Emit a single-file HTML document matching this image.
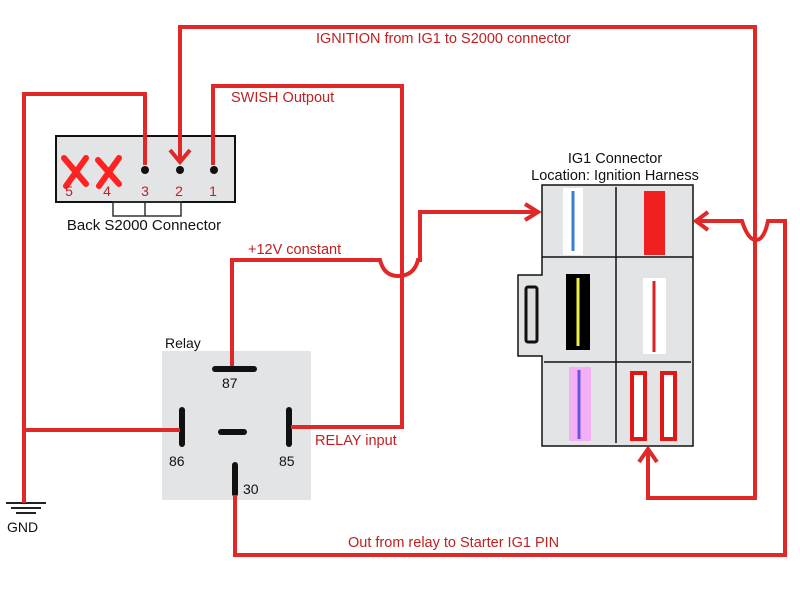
<!DOCTYPE html>
<html><head><style>
body{margin:0;background:#fff;}
svg text{font-family:"Liberation Sans",sans-serif;}
</style></head><body>
<svg width="800" height="600" xmlns="http://www.w3.org/2000/svg">
<rect width="800" height="600" fill="#fff"/>
<!-- S2000 connector -->
<rect x="56" y="136" width="179" height="66" fill="#e3e4e6" stroke="#111" stroke-width="2"/>
<rect x="113" y="202" width="68" height="14" fill="none" stroke="#333" stroke-width="1.5"/>
<line x1="145" y1="202" x2="145" y2="216" stroke="#333" stroke-width="1.5"/>
<g stroke="#f22" stroke-width="6" stroke-linecap="round">
<line x1="64" y1="158" x2="86" y2="184"/><line x1="86" y1="158" x2="66" y2="186"/>
<line x1="98" y1="160" x2="119" y2="184"/><line x1="119" y1="158" x2="99" y2="186"/>
</g>
<g fill="#111"><circle cx="145" cy="170" r="4"/><circle cx="180" cy="170" r="4"/><circle cx="214" cy="170" r="4"/></g>
<g fill="#c02020" font-size="14" text-anchor="middle">
<text x="69" y="196">5</text><text x="107" y="196">4</text><text x="145" y="196">3</text><text x="179" y="196">2</text><text x="213" y="196">1</text></g>
<text x="144" y="230" font-size="15" text-anchor="middle" fill="#111">Back S2000 Connector</text>
<!-- IG1 connector -->
<path d="M542 185 H693 V446 H542 V356 H518 V275 H542 Z" fill="#e3e4e6" stroke="#111" stroke-width="1.5"/>
<line x1="616" y1="187" x2="616" y2="443" stroke="#111" stroke-width="1.5"/>
<line x1="542" y1="257" x2="693" y2="257" stroke="#111" stroke-width="1.5"/>
<line x1="544" y1="362" x2="691" y2="362" stroke="#111" stroke-width="1.5"/>
<rect x="563" y="188" width="20" height="67" fill="#fff"/><line x1="573" y1="191" x2="573" y2="251" stroke="#3a7fd6" stroke-width="3"/>
<rect x="644" y="191" width="21" height="64" fill="#f02020"/>
<rect x="526" y="287" width="11" height="55" fill="#ddd" stroke="#111" stroke-width="3" rx="2"/>
<rect x="566" y="274" width="24" height="76" fill="#000"/><line x1="578" y1="278" x2="578" y2="346" stroke="#ee4" stroke-width="3"/>
<rect x="643" y="278" width="23" height="76" fill="#fff"/><line x1="654" y1="281" x2="654" y2="352" stroke="#d22" stroke-width="3"/>
<rect x="569" y="367" width="22" height="74" fill="#f4b0f4"/><line x1="579" y1="370" x2="579" y2="439" stroke="#6a55e0" stroke-width="3"/>
<rect x="632" y="373" width="13" height="66" fill="#fff" stroke="#e01818" stroke-width="4"/>
<rect x="662" y="373" width="13" height="66" fill="#fff" stroke="#e01818" stroke-width="4"/>
<text x="615" y="163" font-size="14.5" text-anchor="middle" fill="#111">IG1 Connector</text>
<text x="615" y="180" font-size="14.5" text-anchor="middle" fill="#111">Location: Ignition Harness</text>
<!-- Relay -->
<rect x="162" y="351" width="149" height="149" fill="#e3e4e6"/>
<g stroke="#111" stroke-width="6" stroke-linecap="round">
<line x1="215" y1="369" x2="254" y2="369"/>
<line x1="182" y1="410" x2="182" y2="444"/>
<line x1="289" y1="410" x2="289" y2="444"/>
<line x1="221" y1="432" x2="244" y2="432"/>
<line x1="235" y1="465" x2="235" y2="494"/>
</g>
<g font-size="14" fill="#111"><text x="222" y="388">87</text><text x="169" y="466">86</text><text x="279" y="466">85</text><text x="243" y="494">30</text><text x="165" y="348">Relay</text></g>
<!-- GND -->
<g stroke="#222" stroke-width="2"><line x1="6" y1="503" x2="46" y2="503"/><line x1="11" y1="508" x2="41" y2="508"/><line x1="16" y1="513" x2="36" y2="513"/></g>
<text x="7" y="532" font-size="14" fill="#111">GND</text>
<!-- wires -->
<g fill="none" stroke="#e02828" stroke-width="4" stroke-linejoin="miter">
<path d="M180 162 V27 H755 V498 H648 V449"/>
<path d="M170 150 L180 162 L190 150"/>
<path d="M213 165 V86 H402 V427 H291"/>
<path d="M145 165 V94 H24 V503"/>
<path d="M24 430 H180"/>
<path d="M232 366 V260 H380 Q384 276 398 276 Q414 276 418 260 H420 V212 H538"/>
<path d="M525 204 L538 212 L525 220"/>
<path d="M696 221 H742 Q748 240 756 240 Q764 240 768 221 H785 V555 H235 V495"/>
<path d="M708 212 L696 221 L708 230"/>
<path d="M639 462 L648 449 L657 462"/>
</g>
<g font-size="14.5" fill="#c02020">
<text x="316" y="43">IGNITION from IG1 to S2000 connector</text>
<text x="231" y="102">SWISH Outpout</text>
<text x="248" y="254">+12V constant</text>
<text x="315" y="445">RELAY input</text>
<text x="348" y="547">Out from relay to Starter IG1 PIN</text>
</g>
</svg>
</body></html>
